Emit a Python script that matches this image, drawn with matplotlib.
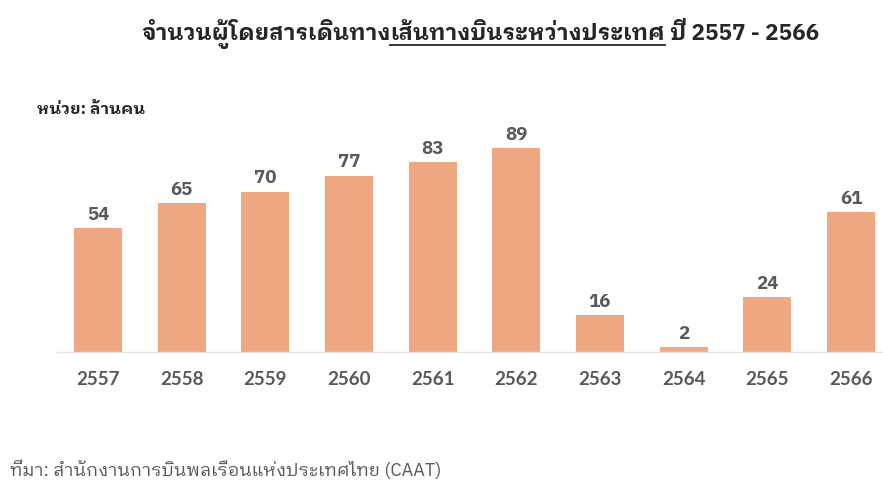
import matplotlib
matplotlib.use("Agg")
import matplotlib.pyplot as plt
from matplotlib.lines import Line2D

# International-route air passengers (million people), B.E. 2557-2566
years = ["2557", "2558", "2559", "2560", "2561", "2562", "2563", "2564", "2565", "2566"]
passengers = [54, 65, 70, 77, 83, 89, 16, 2, 24, 61]

title_parts = ["จำนวนผู้โดยสารเดินทาง", "เส้นทางบินระหว่างประเทศ", " ปี 2557 - 2566"]
unit_label = "หน่วย: ล้านคน"
source_label = "ที่มา: สำนักงานการบินพลเรือนแห่งประเทศไทย (CAAT)"

THAI = ["IBM Plex Sans Thai Looped", "Noto Sans Thai Looped", "DejaVu Sans"]
NUM = ["Liberation Sans Narrow", "Lato", "DejaVu Sans"]
BAR = "#F0A882"
TEXT_GREY = "#595959"

W, H = 883, 484
fig = plt.figure(figsize=(W / 100, H / 100), dpi=100)
fig.patch.set_facecolor("white")

# axes geometry in pixels
left_px, base_px, top_px = 57, 352, 130
first_c, last_c = 98, 851
step = (last_c - first_c) / (len(years) - 1)
px_per_unit = 2.292

ax = fig.add_axes([left_px / W, (H - base_px) / H, (W - left_px) / W, (base_px - top_px) / H])
x = list(range(len(years)))
ax.bar(x, passengers, width=48 / step, color=BAR, zorder=2)
ax.set_xlim(-(first_c - left_px) / step, len(years) - 1 + (W - last_c) / step)
ax.set_ylim(0, (base_px - top_px) / px_per_unit)

for s in ("top", "left", "right"):
    ax.spines[s].set_visible(False)
ax.spines["bottom"].set_color("#E3E3E3")
ax.spines["bottom"].set_linewidth(1.0)
ax.set_yticks([])
ax.set_xticks(x)
ax.set_xticklabels(years, family=NUM, fontsize=13.5, color=TEXT_GREY, fontweight="bold")
ax.tick_params(axis="x", length=0, pad=14)

for xi, v in zip(x, passengers):
    ax.annotate(f"{v}", (xi, v), xytext=(0, 3), textcoords="offset points",
                ha="center", va="bottom", family=THAI, fontsize=13.5,
                fontweight="bold", color=TEXT_GREY, annotation_clip=False)

fig.canvas.draw()
renderer = fig.canvas.get_renderer()


def text_width(s, **kw):
    t = fig.text(0, 0, s, **kw)
    w = t.get_window_extent(renderer).width
    t.remove()
    return w


def fitted_size(parts, target, base_size, **kw):
    total = sum(text_width(p, fontsize=base_size, **kw) for p in parts)
    return base_size * target / total


# title, with the route part underlined
title_kw = dict(family=THAI, fontweight="bold", color="#262626", va="baseline")
tsize = fitted_size(title_parts, 680, 14, **title_kw)
widths = [text_width(p, fontsize=tsize, **title_kw) for p in title_parts]
cx, base_y = 480, 40
xpos = cx - sum(widths) / 2
for i, (t, w) in enumerate(zip(title_parts, widths)):
    fig.text(xpos / W, (H - base_y) / H, t, fontsize=tsize, **title_kw)
    if i == 1:
        uy = (H - base_y - 5) / H
        fig.add_artist(Line2D([xpos / W, (xpos + w) / W], [uy, uy],
                              color="#262626", linewidth=1.3, transform=fig.transFigure))
    xpos += w

unit_kw = dict(family=THAI, fontweight="bold", color="#262626")
usize = fitted_size([unit_label], 108, 10, **unit_kw)
fig.text(37 / W, (H - 110) / H, unit_label, fontsize=usize, va="center", ha="left", **unit_kw)

src_kw = dict(family=THAI, color=TEXT_GREY)
ssize = fitted_size([source_label], 432, 10, **src_kw)
fig.text(10 / W, (H - 470) / H, source_label, fontsize=ssize, va="center", ha="left", **src_kw)

fig.savefig("out.png", dpi=100, facecolor="white")
